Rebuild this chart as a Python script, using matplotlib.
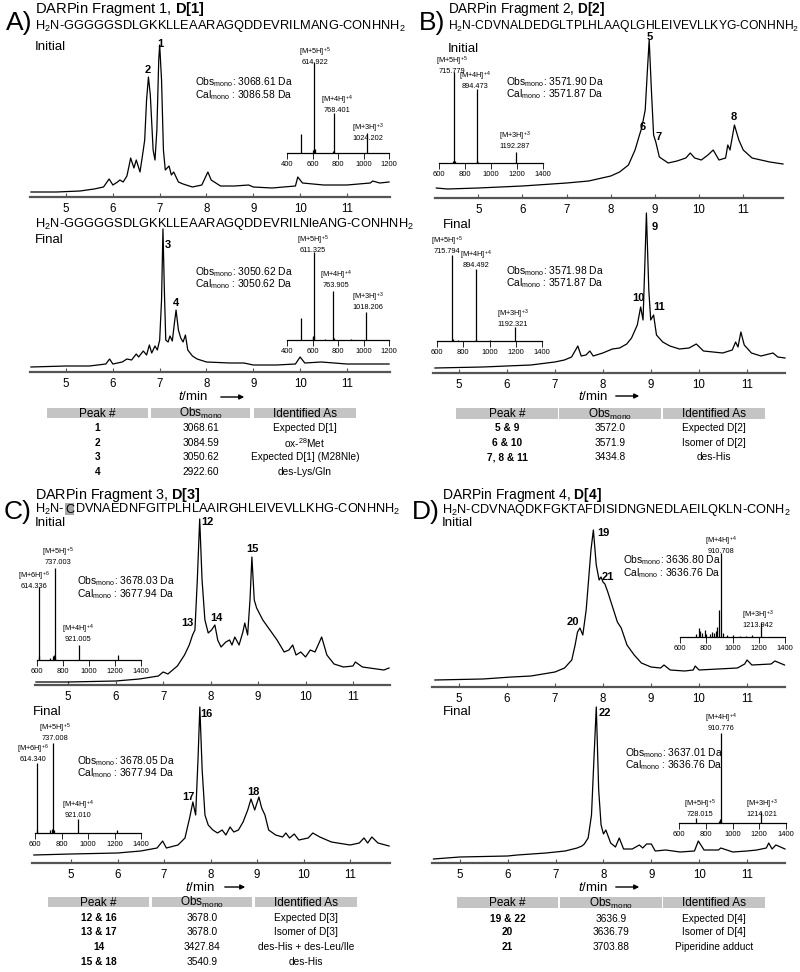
import matplotlib
matplotlib.use('Agg')
import matplotlib.pyplot as plt
from matplotlib.patches import Rectangle, FancyArrowPatch

plt.rcParams['font.family'] = ['Liberation Sans', 'DejaVu Sans']
plt.rcParams['mathtext.fontset'] = 'custom'
plt.rcParams['mathtext.rm'] = 'Liberation Sans'
plt.rcParams['mathtext.it'] = 'Liberation Sans:italic'
plt.rcParams['mathtext.bf'] = 'Liberation Sans:bold'
plt.rcParams['mathtext.default'] = 'regular'

# ---------------- data ----------------
# chromatograms: retention time (min) and absorbance (a.u.)
a_init_t = [4.25, 4.8, 5.3, 5.6, 5.8, 5.92, 6.0, 6.1, 6.15, 6.22, 6.3, 6.35, 6.38, 6.45, 6.5, 6.58, 6.65, 6.68,
            6.72, 6.76, 6.8, 6.86, 6.9, 6.94, 6.98, 7.0, 7.04, 7.08, 7.12, 7.2, 7.25, 7.3, 7.4, 7.5, 7.7, 7.9,
            8.0, 8.03, 8.1, 8.3, 8.6, 8.9, 9.0, 9.4, 9.9, 9.95, 10.05, 10.5, 11.0, 11.5, 11.55, 11.7, 11.9]
a_init_v = [5, 5, 6, 8, 10, 18, 12, 15, 17, 15, 21, 32, 39, 29, 37, 25, 47, 57,
            97, 120, 102, 47, 37, 67, 137, 152, 117, 47, 27, 31, 22, 25, 15, 13, 10, 12,
            22, 25, 17, 11, 11, 12, 10, 9, 11, 20, 14, 12, 12, 14, 16, 14, 15]
a_final_t = [4.25, 5.0, 5.5, 5.85, 5.93, 6.0, 6.2, 6.3, 6.4, 6.5, 6.55, 6.65, 6.72, 6.78, 6.83, 6.9, 6.95, 7.0,
             7.04, 7.07, 7.1, 7.13, 7.18, 7.22, 7.27, 7.31, 7.35, 7.4, 7.45, 7.5, 7.55, 7.6, 7.7, 7.8, 8.0,
             8.5, 8.8, 9.0, 9.5, 9.9, 10.0, 10.1, 10.45, 11.0, 11.5, 11.9]
a_final_v = [5, 6, 6, 8, 13, 8, 10, 13, 12, 18, 15, 21, 17, 27, 19, 26, 22, 32,
             72, 143, 82, 32, 30, 36, 31, 47, 62, 42, 34, 30, 37, 22, 16, 13, 10,
             9, 9, 7, 7, 8, 15, 9, 10, 8, 8, 8]
b_init_t = [4.05, 4.3, 5.0, 6.0, 7.0, 7.5, 8.0, 8.2, 8.4, 8.55, 8.65, 8.7, 8.78, 8.83, 8.87, 8.92, 8.97, 9.02,
            9.1, 9.2, 9.3, 9.5, 9.7, 9.8, 9.9, 10.05, 10.2, 10.32, 10.45, 10.6, 10.65, 10.7, 10.8, 10.9, 11.0,
            11.2, 11.4, 11.6, 11.9]
b_init_v = [10, 9, 10, 12, 15, 17, 22, 26, 33, 48, 63, 70, 88, 128, 158, 108, 63, 56,
            41, 38, 35, 37, 40, 45, 40, 38, 43, 48, 38, 40, 53, 48, 73, 58, 48,
            40, 38, 36, 34]
b_final_t = [4.5, 5.5, 6.5, 7.0, 7.2, 7.35, 7.48, 7.55, 7.65, 7.73, 7.8, 8.0, 8.2, 8.35, 8.5, 8.6, 8.72, 8.79,
             8.84, 8.88, 8.91, 8.96, 9.0, 9.06, 9.12, 9.25, 9.4, 9.6, 9.8, 9.95, 10.1, 10.5, 10.7, 10.77, 10.82,
             10.88, 10.95, 11.1, 11.3, 11.55, 11.65, 11.8]
b_final_v = [5, 6, 8, 11, 13, 16, 27, 17, 18, 22, 17, 20, 24, 25, 29, 35, 48, 66,
             53, 113, 160, 83, 53, 58, 38, 31, 27, 24, 25, 29, 22, 20, 23, 31, 26,
             41, 28, 20, 17, 20, 16, 15]
c_init_t = [4.32, 5.0, 6.0, 6.5, 6.9, 7.0, 7.1, 7.3, 7.45, 7.55, 7.62, 7.67, 7.72, 7.77, 7.82, 7.88, 7.95, 8.02,
            8.09, 8.15, 8.22, 8.32, 8.4, 8.45, 8.51, 8.6, 8.68, 8.72, 8.78, 8.83, 8.87, 8.92, 8.97, 9.1, 9.25,
            9.4, 9.55, 9.65, 9.73, 9.8, 9.9, 10.0, 10.1, 10.2, 10.34, 10.45, 10.6, 10.8, 11.0, 11.05, 11.2,
            11.5, 11.65, 11.76]
c_init_v = [3, 3, 4, 6, 9, 13, 11, 19, 30, 40, 50, 55, 105, 166, 105, 65, 52, 55,
            60, 45, 38, 43, 45, 40, 48, 40, 53, 62, 50, 85, 128, 85, 77, 65, 55,
            45, 33, 35, 40, 30, 33, 28, 35, 33, 48, 30, 21, 18, 19, 23, 18,
            16, 15, 17]
c_final_t = [4.2, 5.0, 6.0, 6.5, 6.85, 6.97, 7.05, 7.3, 7.45, 7.55, 7.62, 7.68, 7.73, 7.77, 7.82, 7.88, 7.95,
             8.05, 8.15, 8.25, 8.33, 8.42, 8.5, 8.6, 8.7, 8.8, 8.87, 8.95, 9.04, 9.1, 9.17, 9.25, 9.4, 9.55,
             9.62, 9.7, 9.8, 9.9, 10.1, 10.2, 10.35, 10.6, 11.0, 11.2, 11.3, 11.38, 11.47, 11.6, 11.84]
c_final_v = [8, 9, 10, 12, 15, 22, 15, 18, 25, 45, 61, 48, 103, 156, 93, 48, 38,
             33, 30, 33, 28, 36, 31, 33, 41, 53, 64, 53, 66, 55, 48, 33, 28, 26,
             30, 25, 29, 23, 25, 30, 26, 21, 18, 20, 25, 20, 26, 20, 17]
d_init_t = [4.5, 5.5, 6.1, 6.5, 7.0, 7.2, 7.35, 7.42, 7.47, 7.52, 7.58, 7.65, 7.7, 7.75, 7.8, 7.86, 7.92, 7.96,
            8.0, 8.04, 8.1, 8.2, 8.3, 8.38, 8.5, 8.65, 8.8, 9.0, 9.2, 9.27, 9.4, 9.7, 9.88, 9.92, 10.0, 10.4,
            10.8, 10.95, 11.0, 11.1, 11.5, 11.58, 11.78]
d_init_v = [7, 8, 10, 11, 15, 19, 27, 42, 55, 59, 52, 77, 107, 137, 157, 122, 107, 110,
            105, 103, 95, 80, 65, 59, 42, 32, 24, 20, 19, 22, 17, 16, 17, 21, 17, 18,
            19, 23, 27, 22, 23, 26, 22]
d_final_t = [4.45, 5.0, 6.0, 6.2, 6.8, 7.0, 7.2, 7.45, 7.55, 7.6, 7.68, 7.75, 7.8, 7.85, 7.9, 7.95, 8.0, 8.05,
             8.15, 8.25, 8.33, 8.42, 8.6, 8.75, 8.82, 8.9, 9.0, 9.08, 9.3, 9.6, 9.9, 9.98, 10.1, 10.4, 10.45,
             10.7, 11.0, 11.2, 11.4, 11.45, 11.52, 11.6, 11.79]
d_final_v = [4, 6, 7, 8, 10, 11, 12, 15, 17, 19, 25, 48, 103, 156, 73, 38, 29, 33,
             20, 16, 25, 14, 14, 18, 15, 19, 19, 12, 13, 11, 12, 22, 13, 13, 15,
             11, 12, 13, 15, 20, 14, 18, 14]

# mass spectra insets: m/z and relative intensity
a_ms_init_mz = [510, 603, 612, 614.9, 618, 762, 768.4, 772, 1024.2]
a_ms_init_i = [21, 3, 4, 100, 4, 2, 44, 2, 22]
a_ms_final_mz = [510, 600, 605, 611.3, 615, 700, 763.9, 768, 900, 1018.2]
a_ms_final_i = [25, 3, 5, 100, 4, 1, 56, 2, 1, 32]
b_ms_init_mz = [710, 715.8, 720, 890, 894.5, 898, 1192.3]
b_ms_init_i = [2, 100, 2, 2, 81, 1, 12]
b_ms_final_mz = [715.8, 720, 760, 894.5, 900, 1000, 1192.3]
b_ms_final_i = [100, 2, 1, 84, 2, 1, 16]
c_ms_init_mz = [614.3, 618, 700, 720, 730, 737.0, 742, 921.0, 1221]
c_ms_init_i = [79, 4, 2, 4, 5, 100, 3, 16, 5]
c_ms_final_mz = [614.3, 618, 710, 725, 737.0, 742, 921.0, 1221]
c_ms_final_i = [78, 3, 3, 5, 100, 3, 16, 3]
d_ms_init_mz = [720, 745, 752, 770, 790, 800, 830, 845, 860, 875, 885, 895, 910.7, 925, 960, 1000, 1060, 1100,
                1150, 1213.9]
d_ms_init_i = [3, 11, 7, 5, 8, 4, 4, 6, 5, 7, 12, 32, 100, 5, 2, 2, 1, 1, 2, 17]
d_ms_final_mz = [728.0, 900, 905, 910.8, 915, 1214.0]
d_ms_final_i = [6, 2, 4, 100, 3, 12]

ms_ticks_a = [400, 600, 800, 1000, 1200]
ms_ticks_bcd = [600, 800, 1000, 1200, 1400]
time_ticks = [5, 6, 7, 8, 9, 10, 11]

titles = ['DARPin Fragment 1, $\\mathbf{D[1]}$', 'DARPin Fragment 2, $\\mathbf{D[2]}$',
          'DARPin Fragment 3, $\\mathbf{D[3]}$', 'DARPin Fragment 4, $\\mathbf{D[4]}$']
seq_a1 = 'H$_2$N-GGGGGSDLGKKLLEAARAGQDDEVRILMANG-CONHNH$_2$'
seq_a2 = 'H$_2$N-GGGGGSDLGKKLLEAARAGQDDEVRILNleANG-CONHNH$_2$'
seq_b = 'H$_2$N-CDVNALDEDGLTPLHLAAQLGHLEIVEVLLKYG-CONHNH$_2$'
seq_c_head = 'H$_2$N-'
seq_c_mark = 'C'
seq_c_rest = 'DVNAEDNFGITPLHLAAIRGHLEIVEVLLKHG-CONHNH$_2$'
seq_d = 'H$_2$N-CDVNAQDKFGKTAFDISIDNGNEDLAEILQKLN-CONH$_2$'

ms_labels = {
    'a1': [('[M+5H]$^{+5}$', '614.922'), ('[M+4H]$^{+4}$', '768.401'), ('[M+3H]$^{+3}$', '1024.202')],
    'a2': [('[M+5H]$^{+5}$', '611.325'), ('[M+4H]$^{+4}$', '763.905'), ('[M+3H]$^{+3}$', '1018.206')],
    'b1': [('[M+5H]$^{+5}$', '715.779'), ('[M+4H]$^{+4}$', '894.473'), ('[M+3H]$^{+3}$', '1192.287')],
    'b2': [('[M+5H]$^{+5}$', '715.794'), ('[M+4H]$^{+4}$', '894.492'), ('[M+3H]$^{+3}$', '1192.321')],
    'c1': [('[M+6H]$^{+6}$', '614.336'), ('[M+5H]$^{+5}$', '737.003'), ('[M+4H]$^{+4}$', '921.005')],
    'c2': [('[M+5H]$^{+5}$', '737.008'), ('[M+6H]$^{+6}$', '614.340'), ('[M+4H]$^{+4}$', '921.010')],
    'd1': [('[M+4H]$^{+4}$', '910.708'), ('[M+3H]$^{+3}$', '1213.942')],
    'd2': [('[M+4H]$^{+4}$', '910.776'), ('[M+5H]$^{+5}$', '728.015'), ('[M+3H]$^{+3}$', '1214.021')],
}
obs_cal = {
    'a1': ('3068.61', '3086.58'), 'a2': ('3050.62', '3050.62'),
    'b1': ('3571.90', '3571.87'), 'b2': ('3571.98', '3571.87'),
    'c1': ('3678.03', '3677.94'), 'c2': ('3678.05', '3677.94'),
    'd1': ('3636.80', '3636.76'), 'd2': ('3637.01', '3636.76'),
}
table_head = ['Peak #', 'Obs$_{\\mathrm{mono}}$', 'Identified As']
table_a = [('1', '3068.61', 'Expected D[1]'), ('2', '3084.59', 'ox-$^{28}$Met'),
           ('3', '3050.62', 'Expected D[1] (M28Nle)'), ('4', '2922.60', 'des-Lys/Gln')]
table_b = [('5 & 9', '3572.0', 'Expected D[2]'), ('6 & 10', '3571.9', 'Isomer of D[2]'),
           ('7, 8 & 11', '3434.8', 'des-His')]
table_c = [('12 & 16', '3678.0', 'Expected D[3]'), ('13 & 17', '3678.0', 'Isomer of D[3]'),
           ('14', '3427.84', 'des-His + des-Leu/Ile'), ('15 & 18', '3540.9', 'des-His')]
table_d = [('19 & 22', '3636.9', 'Expected D[4]'), ('20', '3636.79', 'Isomer of D[4]'),
           ('21', '3703.88', 'Piperidine adduct')]

# ---------------- drawing ----------------
W, H = 800, 972
fig = plt.figure(figsize=(8, 9.72), dpi=100)


def fx(x):
    return x / W


def fy(y):
    return 1 - y / H


def txt(x, y, s, **kw):
    return fig.text(fx(x), fy(y), s, **kw)


def box(x0, y0, x1, y1):
    ax = fig.add_axes([fx(x0), fy(y1), (x1 - x0) / W, (y1 - y0) / H])
    ax.patch.set_alpha(0)
    return ax


def chrom(x0, x1, top, spine, xlim, t, v):
    ax = box(x0, top, x1, spine)
    ax.plot(t, v, color='black', lw=0.9, clip_on=False)
    ax.set_xlim(xlim)
    ax.set_ylim(0, spine - top)
    for s in ['top', 'right', 'left']:
        ax.spines[s].set_visible(False)
    ax.spines['bottom'].set_linewidth(1.6)
    ax.spines['bottom'].set_color('#555555')
    ax.set_yticks([])
    ax.set_xticks(time_ticks)
    ax.tick_params(axis='x', direction='in', length=3, width=0.8, labelsize=8.3, pad=4, color='#555555')
    return ax


def inset(x0, x1, axis_y, xlim, ticks, mz, inten, hpx):
    ax = box(x0, axis_y - hpx, x1, axis_y)
    ax.vlines(mz, 0, inten, color='black', lw=0.9)
    ax.set_xlim(xlim)
    ax.set_ylim(0, 100)
    for s in ['top', 'right', 'left']:
        ax.spines[s].set_visible(False)
    ax.spines['bottom'].set_linewidth(0.9)
    ax.set_yticks([])
    ax.set_xticks(ticks)
    ax.tick_params(axis='x', direction='out', length=4, width=0.6, labelsize=5.5, pad=1.5)
    return ax


def ms_text(key, positions):
    for (l1, l2), (x, y) in zip(ms_labels[key], positions):
        txt(x, y, l1 + '\n' + l2, ha='center', va='center', fontsize=5.3, linespacing=0.95)


def obs_text(key, x, y1, y2):
    o, c = obs_cal[key]
    txt(x, y1, 'Obs$_{\\mathrm{mono}}$: ' + o + ' Da', ha='left', va='center', fontsize=7.4)
    txt(x, y2, 'Cal$_{\\mathrm{mono}}$ : ' + c + ' Da', ha='left', va='center', fontsize=7.4)


def peak_labels(items):
    for s, x, y in items:
        txt(x, y, s, ha='center', va='center', fontsize=8, weight='bold')


def tmin(x, y, ax0, ax1):
    txt(x, y, '$\\mathit{t}$/min', ha='left', va='center', fontsize=9.5)
    fig.patches.append(FancyArrowPatch((fx(ax0), fy(y)), (fx(ax1), fy(y)), transform=fig.transFigure,
                                       arrowstyle='-|>', mutation_scale=7, lw=1.0, color='black'))


def table(cols, y0, y1, rows_y, rows):
    for (a, b), head in zip(cols, table_head):
        fig.patches.append(Rectangle((fx(a), fy(y1)), (b - a) / W, (y1 - y0) / H,
                                     transform=fig.transFigure, facecolor='#c4c4c4', edgecolor='none', zorder=0))
        txt((a + b) / 2, (y0 + y1) / 2 + 0.5, head, ha='center', va='center', fontsize=8.5)
    for ry, row in zip(rows_y, rows):
        for j, ((a, b), cell) in enumerate(zip(cols, row)):
            txt((a + b) / 2, ry, cell, ha='center', va='center', fontsize=7.3,
                weight='bold' if j == 0 else 'normal')


# ----- Panel A -----
txt(6, 23, 'A)', fontsize=19, va='center', ha='left')
txt(35, 9.3, titles[0], fontsize=10.6, va='center')
txt(35, 28.5, seq_a1, fontsize=9.3, va='baseline')
txt(35, 49.5, 'Initial', fontsize=9.5, va='baseline')
chrom(30, 390, 37, 197, (4.23, 11.92), a_init_t, a_init_v)
inset(287, 389, 153, (400, 1200), ms_ticks_a, a_ms_init_mz, a_ms_init_i, 91)
ms_text('a1', [(315, 56), (337, 104), (368, 132)])
obs_text('a1', 195, 82, 95)
peak_labels([('1', 160, 44), ('2', 148, 70)])

txt(35, 227, seq_a2, fontsize=9.3, va='baseline')
txt(35, 243, 'Final', fontsize=9.5, va='baseline')
chrom(30, 390, 222, 372, (4.23, 11.92), a_final_t, a_final_v)
inset(287, 389, 340, (400, 1200), ms_ticks_a, a_ms_final_mz, a_ms_final_i, 88)
ms_text('a2', [(313, 244), (336, 279), (368, 301)])
obs_text('a2', 195, 272, 284)
peak_labels([('3', 168, 245), ('4', 176, 303)])
tmin(178, 397, 218, 247)
table([(47, 148), (151, 250), (254, 356)], 408, 418, [428, 443, 457, 472], table_a)

# ----- Panel B -----
txt(419, 23, 'B)', fontsize=19, va='center', ha='left')
txt(448, 9.5, titles[1], fontsize=9.8, va='center')
txt(448, 28.5, seq_b, fontsize=8.7, va='baseline')
txt(448, 52, 'Initial', fontsize=9.5, va='baseline')
chrom(435, 783, 30, 198, (4.02, 11.9), b_init_t, b_init_v)
inset(439, 543, 163, (600, 1400), ms_ticks_bcd, b_ms_init_mz, b_ms_init_i, 91)
ms_text('b1', [(452, 65), (475, 80), (515, 140)])
obs_text('b1', 506, 82, 94)
peak_labels([('5', 650, 37.5), ('6', 643, 127), ('7', 659, 137), ('8', 734, 117)])

txt(443, 228, 'Final', fontsize=9.5, va='baseline')
chrom(433, 785, 205, 373, (4.46, 11.8), b_final_t, b_final_v)
inset(437, 542, 341, (600, 1400), ms_ticks_bcd, b_ms_final_mz, b_ms_final_i, 86)
ms_text('b2', [(447, 245), (476, 259), (513, 318)])
obs_text('b2', 506, 271, 283)
peak_labels([('9', 655, 227), ('10', 638, 298), ('11', 659, 307)])
tmin(578, 396, 613, 642)
table([(456, 558), (559, 661), (663, 765)], 408, 419, [428, 443, 457], table_b)

# ----- Panel C -----
txt(4, 512, 'C)', fontsize=19, va='center', ha='left')
txt(35, 494.5, titles[2], fontsize=10.4, va='center')
renderer = fig.canvas.get_renderer()
t1 = txt(35, 513, seq_c_head, fontsize=9.2, va='baseline')
bb1 = t1.get_window_extent(renderer)
t2 = fig.text((bb1.x1 + 0.6) / W, fy(513), seq_c_mark, fontsize=9.2, va='baseline', zorder=3)
bb2 = t2.get_window_extent(renderer)
fig.patches.append(Rectangle((bb2.x0 / W, fy(514.5)), (bb2.x1 - bb2.x0) / W, 11.5 / H,
                             transform=fig.transFigure, facecolor='#a6a6a6', edgecolor='none', zorder=1))
fig.text((bb2.x1 + 0.6) / W, fy(513), seq_c_rest, fontsize=9.2, va='baseline')
txt(35, 526, 'Initial', fontsize=9.5, va='baseline')
chrom(35, 390, 515, 685, (4.3, 11.78), c_init_t, c_init_v)
inset(37, 141, 660, (600, 1400), ms_ticks_bcd, c_ms_init_mz, c_ms_init_i, 92)
ms_text('c1', [(34, 580), (58, 556), (78, 633)])
obs_text('c1', 77, 581, 594)
peak_labels([('12', 207, 522), ('13', 187, 623), ('14', 216, 618), ('15', 252, 549)])

txt(33, 715, 'Final', fontsize=9.5, va='baseline')
chrom(32, 390, 700, 863, (4.16, 11.86), c_final_t, c_final_v)
inset(35, 141, 833, (600, 1400), ms_ticks_bcd, c_ms_final_mz, c_ms_final_i, 90)
ms_text('c2', [(55, 732), (33, 753), (78, 809)])
obs_text('c2', 77, 761, 773)
peak_labels([('16', 206, 714), ('17', 188, 797), ('18', 253, 792)])
tmin(185, 887, 222, 248)
table([(48, 149), (152, 252), (255, 357)], 897, 907, [918, 932, 947, 962], table_c)

# ----- Panel D -----
txt(412, 512, 'D)', fontsize=19, va='center', ha='left')
txt(442, 494.5, titles[3], fontsize=10, va='center')
txt(442, 513, seq_d, fontsize=9.2, va='baseline')
txt(442, 526, 'Initial', fontsize=9.5, va='baseline')
chrom(432, 785, 520, 687, (4.44, 11.79), d_init_t, d_init_v)
inset(680, 785, 637, (600, 1400), ms_ticks_bcd, d_ms_init_mz, d_ms_init_i, 84)
ms_text('d1', [(721, 545), (758, 619)])
obs_text('d1', 623, 560.5, 573.5)
peak_labels([('19', 603, 533), ('20', 573, 622), ('21', 608, 577)])

txt(443, 715, 'Final', fontsize=9.5, va='baseline')
chrom(432, 785, 700, 863, (4.42, 11.79), d_final_t, d_final_v)
inset(679, 786, 823, (600, 1400), ms_ticks_bcd, d_ms_final_mz, d_ms_final_i, 90)
ms_text('d2', [(721, 722), (700, 808), (762, 808)])
obs_text('d2', 625, 753, 765.5)
peak_labels([('22', 605, 713)])
tmin(578, 887, 613, 642)
table([(457, 558), (560, 662), (663, 765)], 897, 908, [919, 932, 947], table_d)

fig.savefig('out.png', dpi=100)
